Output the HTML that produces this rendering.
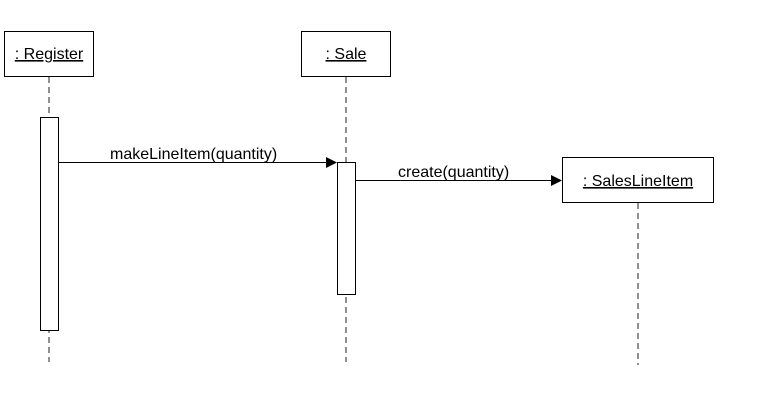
<!DOCTYPE html>
<html><head><style>body{margin:0;background:#fff}</style></head><body>
<svg width="760" height="407" xmlns="http://www.w3.org/2000/svg" font-family="Liberation Sans, Arial, sans-serif" font-size="16">
<g stroke="#555" stroke-width="1.3" stroke-dasharray="6,4" fill="none">
<line x1="49" y1="77" x2="49" y2="362"/>
<line x1="346" y1="77" x2="346" y2="362"/>
<line x1="638" y1="203" x2="638" y2="365"/>
</g>
<g stroke="#000" stroke-width="1" fill="#fff">
<rect x="4.5" y="31.5" width="89" height="45"/>
<rect x="301.5" y="31.5" width="89" height="45"/>
<rect x="562.5" y="157.5" width="151" height="45"/>
<rect x="40.5" y="117.5" width="18" height="213"/>
<rect x="337.5" y="162.5" width="18" height="132"/>
</g>
<g stroke="#000" stroke-width="1">
<line x1="59" y1="162.5" x2="327" y2="162.5"/>
<line x1="356" y1="180.5" x2="552" y2="180.5"/>
</g>
<polygon points="337,162.5 326,157 326,168" fill="#000"/>
<polygon points="562,180.5 551,175 551,186" fill="#000"/>
<g fill="#000" text-anchor="middle" text-decoration="underline">
<text x="49" y="59">: Register</text>
<text x="346" y="59">: Sale</text>
<text x="638" y="186">: SalesLineItem</text>
</g>
<text x="110" y="159" fill="#000">makeLineItem(quantity)</text>
<text x="398" y="177" fill="#000">create(quantity)</text>
</svg>
</body></html>
